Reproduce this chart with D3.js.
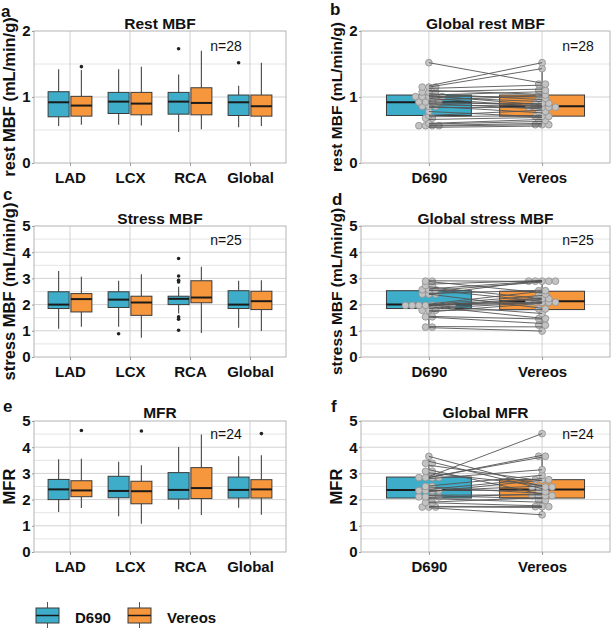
<!DOCTYPE html>
<html>
<head>
<meta charset="UTF-8">
<title>MBF D690 vs Vereos</title>
<script src="https://cdn.jsdelivr.net/npm/d3@7"></script>
<style>
    body{margin:0;background:#fff;}
    svg{display:block;font-family:"Liberation Sans",Arial,sans-serif;}
</style>
</head>
<body>
<svg id="chart" width="614" height="629"></svg>
<script>
// categories
var regions = ["LAD", "LCX", "RCA", "Global"];
var scanners = ["D690", "Vereos"];
var fills = ["#3eadc9", "#f7973d"];

// box stats per region: [lower whisker, q1, median, q3, upper whisker]
var restD690 = [[0.56,0.70,0.92,1.08,1.42],[0.58,0.75,0.93,1.07,1.42],[0.47,0.74,0.93,1.07,1.34],[0.54,0.72,0.92,1.03,1.17]];
var restVereos = [[0.58,0.71,0.87,1.01,1.41],[0.57,0.73,0.90,1.07,1.46],[0.51,0.73,0.91,1.14,1.70],[0.56,0.71,0.86,1.03,1.52]];
var restOutD690 = [[],[],[1.73],[1.52]];
var restOutVereos = [[1.46],[],[],[]];

var stressD690 = [[1.08,1.85,2.00,2.49,3.28],[1.15,1.89,2.19,2.49,2.91],[1.66,2.00,2.22,2.32,2.68],[1.12,1.85,2.00,2.53,2.91]];
var stressVereos = [[1.15,1.72,2.21,2.42,3.06],[0.73,1.59,2.08,2.32,3.16],[0.92,2.07,2.27,2.91,3.44],[0.99,1.81,2.13,2.51,2.93]];
var stressOutD690 = [[],[0.89],[3.76,3.09,2.93,2.86,1.53,1.44,1.02],[]];
var stressOutVereos = [[],[],[],[]];

var mfrD690 = [[1.53,2.00,2.39,2.77,3.54],[1.36,2.07,2.33,2.89,3.44],[1.63,2.02,2.37,3.03,4.01],[1.69,2.06,2.37,2.86,3.65]];
var mfrVereos = [[1.68,2.11,2.35,2.72,3.56],[1.08,1.84,2.32,2.70,3.31],[1.41,2.04,2.44,3.22,4.48],[1.42,2.06,2.39,2.76,3.69]];
var mfrOutD690 = [[],[],[],[]];
var mfrOutVereos = [[4.64],[4.62],[],[4.52]];

// paired global values (same patient order in both arrays)
var restPairD690   = [1.52,1.17,1.15,1.13,1.10,1.08,1.05,1.03,1.02,1.01,1.00,0.98,0.95,0.93,0.91,0.90,0.88,0.86,0.84,0.78,0.72,0.70,0.66,0.60,0.59,0.57,0.56,0.54];
var restPairVereos = [1.21,1.52,1.43,1.18,1.04,1.12,0.96,1.08,0.88,1.00,0.93,0.85,1.02,0.87,0.90,0.82,0.86,0.76,0.84,0.70,0.80,0.72,0.69,0.66,0.63,0.60,0.58,0.56];

var stressPairD690   = [2.91,2.88,2.78,2.68,2.60,2.56,2.53,2.42,2.40,2.38,2.02,2.00,2.00,1.98,1.97,1.97,1.96,1.92,1.85,1.78,1.72,1.55,1.52,1.16,1.12];
var stressPairVereos = [2.88,2.45,2.92,2.22,2.90,2.13,2.86,2.55,1.86,2.93,2.51,2.10,2.35,1.66,2.25,2.07,2.20,1.48,2.08,1.81,2.05,1.45,1.28,1.15,0.99];

var mfrPairD690   = [3.65,3.46,3.31,3.14,3.02,2.88,2.85,2.84,2.80,2.52,2.48,2.39,2.35,2.33,2.30,2.17,2.15,2.08,2.04,1.90,1.88,1.74,1.72,1.69];
var mfrPairVereos = [2.50,2.42,2.72,2.20,2.54,4.52,3.62,3.69,3.14,2.93,2.24,2.80,2.36,2.52,2.74,2.18,2.04,2.22,1.90,2.08,1.76,1.74,1.70,1.42];

var svg = d3.select("#chart");

// draws grid, border and axes of one panel
function frame(left, right, top, bottom, ymax, cats) {
    var g = svg.append("g");
    var x = d3.scalePoint().domain(cats).range([left, right]).padding(0.6);
    var y = d3.scaleLinear().domain([0, ymax]).range([bottom, top]);

    g.selectAll("line.minor").data(d3.range(0.5, ymax, 1)).join("line")
        .attr("class", "minor")
        .attr("x1", left).attr("x2", right)
        .attr("y1", y).attr("y2", y)
        .attr("stroke", "#e4e4e4").attr("stroke-width", 1);
    g.selectAll("line.major").data(d3.range(1, ymax)).join("line")
        .attr("class", "major")
        .attr("x1", left).attr("x2", right)
        .attr("y1", y).attr("y2", y)
        .attr("stroke", "#d2d2d2").attr("stroke-width", 1);
    g.selectAll("line.vert").data(cats).join("line")
        .attr("class", "vert")
        .attr("x1", x).attr("x2", x)
        .attr("y1", top).attr("y2", bottom)
        .attr("stroke", "#d2d2d2").attr("stroke-width", 1);
    g.append("rect")
        .attr("x", left).attr("y", top)
        .attr("width", right - left).attr("height", bottom - top)
        .attr("fill", "none").attr("stroke", "#b4b4b4").attr("stroke-width", 1);

    var ya = g.append("g").attr("transform", "translate(" + left + ",0)")
        .call(d3.axisLeft(y).tickValues(d3.range(0, ymax + 1)).tickFormat(d3.format("d")).tickSize(2).tickPadding(1.5));
    var xa = g.append("g").attr("transform", "translate(0," + bottom + ")")
        .call(d3.axisBottom(x).tickSize(3).tickPadding(6));
    [ya, xa].forEach(function (a) {
        a.select(".domain").remove();
        a.selectAll(".tick line").attr("stroke", "#999");
        a.selectAll("text").attr("fill", "#111").style("font-size", "15px").style("font-weight", "bold")
            .style("font-family", "'Liberation Sans',Arial,sans-serif");
    });
    return {g: g, x: x, y: y, step: x.step()};
}

function drawBox(g, cx, w, s, col, y) {
    g.append("line").attr("x1", cx).attr("x2", cx).attr("y1", y(s[0])).attr("y2", y(s[1]))
        .attr("stroke", "#555").attr("stroke-width", 1.2);
    g.append("line").attr("x1", cx).attr("x2", cx).attr("y1", y(s[3])).attr("y2", y(s[4]))
        .attr("stroke", "#555").attr("stroke-width", 1.2);
    g.append("rect").attr("x", cx - w / 2).attr("y", y(s[3]))
        .attr("width", w).attr("height", y(s[1]) - y(s[3]))
        .attr("fill", col).attr("stroke", "#3a3a3a").attr("stroke-width", 1);
    g.append("line").attr("x1", cx - w / 2).attr("x2", cx + w / 2).attr("y1", y(s[2])).attr("y2", y(s[2]))
        .attr("stroke", "#1a1a1a").attr("stroke-width", 2);
}

function labels(p, o) {
    var r = p.x.range();
    var top = p.y.range()[1], bottom = p.y.range()[0];
    svg.append("text").attr("x", (r[0] + r[1]) / 2).attr("y", o.titleY)
        .attr("text-anchor", "middle").style("font-size", "15.5px").style("font-weight", "bold").attr("fill", "#111")
        .text(o.title);
    svg.append("text").attr("x", o.nx).attr("y", o.ny)
        .attr("text-anchor", "middle").style("font-size", "14px").attr("fill", "#111")
        .text(o.n);
    svg.append("text").attr("x", o.lx).attr("y", o.ly)
        .style("font-size", "17px").style("font-weight", "bold").attr("fill", "#111")
        .text(o.letter);
    svg.append("text")
        .attr("transform", "translate(" + o.yx + "," + (top + bottom) / 2 + ") rotate(-90)")
        .attr("text-anchor", "middle").style("font-size", o.ysize).style("font-weight", "bold").attr("fill", "#111")
        .text(o.ylab);
}

// grouped boxplot panel (a, c, e)
function groupedPanel(box, ymax, statsA, statsB, outA, outB, o) {
    var p = frame(box[0], box[1], box[2], box[3], ymax, regions);
    var w = 0.35 * p.step, off = 0.19 * p.step;
    var sets = [[statsA, outA], [statsB, outB]];
    sets.forEach(function (set, k) {
        regions.forEach(function (reg, i) {
            var cx = p.x(reg) + (k === 0 ? -off : off);
            drawBox(p.g, cx, w, set[0][i], fills[k], p.y);
            p.g.selectAll(null).data(set[1][i]).join("circle")
                .attr("cx", cx).attr("cy", p.y).attr("r", 1.8).attr("fill", "#222");
        });
    });
    labels(p, o);
}

// dotplot layout: bins values along y, stacks dots sideways around cx
function dotLayout(values, cx, y, bwPx, d) {
    var sorted = values.slice().sort(d3.ascending);
    var bins = [], cur = null;
    sorted.forEach(function (v) {
        if (cur && Math.abs(y(v) - y(cur[0])) < bwPx) cur.push(v);
        else { cur = [v]; bins.push(cur); }
    });
    var pts = [];
    bins.forEach(function (b) {
        var c = (b[0] + b[b.length - 1]) / 2;
        b.forEach(function (v, j) {
            pts.push({x: cx + (j - (b.length - 1) / 2) * d, y: y(c)});
        });
    });
    return pts;
}

// paired panel (b, d, f)
function pairedPanel(box, ymax, statA, statB, pairA, pairB, bw, o) {
    var p = frame(box[0], box[1], box[2], box[3], ymax, scanners);
    var w = 0.75 * p.step;
    drawBox(p.g, p.x("D690"), w, statA, fills[0], p.y);
    drawBox(p.g, p.x("Vereos"), w, statB, fills[1], p.y);
    var dots = dotLayout(pairA, p.x("D690"), p.y, bw, 6.7)
        .concat(dotLayout(pairB, p.x("Vereos"), p.y, bw, 6.7));
    p.g.selectAll("circle.pt").data(dots).join("circle")
        .attr("class", "pt")
        .attr("cx", function (d) { return d.x; }).attr("cy", function (d) { return d.y; })
        .attr("r", 3.4).attr("fill", "#c3c3c3").attr("stroke", "#8f8f8f").attr("stroke-width", 0.8);
    p.g.selectAll("line.pair").data(d3.range(pairA.length)).join("line")
        .attr("class", "pair")
        .attr("x1", p.x("D690")).attr("x2", p.x("Vereos"))
        .attr("y1", function (i) { return p.y(pairA[i]); })
        .attr("y2", function (i) { return p.y(pairB[i]); })
        .attr("stroke", "#555").attr("stroke-width", 0.9);
    labels(p, o);
}

groupedPanel([34, 286, 31, 163], 2, restD690, restVereos, restOutD690, restOutVereos,
    {title: "Rest MBF", titleY: 28.5, n: "n=28", nx: 226, ny: 51, letter: "a", lx: 1, ly: 17, yx: 14.5, ysize: "16.5px", ylab: "rest MBF (mL/min/g)"});
pairedPanel([361, 610, 31, 163], 2, restD690[3], restVereos[3], restPairD690, restPairVereos, 3.6,
    {title: "Global rest MBF", titleY: 28.5, n: "n=28", nx: 578, ny: 51, letter: "b", lx: 330, ly: 15, yx: 342, ysize: "15.5px", ylab: "rest MBF (mL/min/g)"});

groupedPanel([34, 286, 226, 357], 5, stressD690, stressVereos, stressOutD690, stressOutVereos,
    {title: "Stress MBF", titleY: 223.5, n: "n=25", nx: 226, ny: 245, letter: "c", lx: 3, ly: 200, yx: 14.5, ysize: "16.5px", ylab: "stress MBF (mL/min/g)"});
pairedPanel([361, 610, 226, 357], 5, stressD690[3], stressVereos[3], stressPairD690, stressPairVereos, 3.6,
    {title: "Global stress MBF", titleY: 224, n: "n=25", nx: 578, ny: 245, letter: "d", lx: 332, ly: 205, yx: 342, ysize: "15.5px", ylab: "stress MBF (mL/min/g)"});

groupedPanel([34, 286, 421, 552], 5, mfrD690, mfrVereos, mfrOutD690, mfrOutVereos,
    {title: "MFR", titleY: 417.5, n: "n=24", nx: 226, ny: 439, letter: "e", lx: 3, ly: 412, yx: 14.5, ysize: "16.5px", ylab: "MFR"});
pairedPanel([361, 610, 421, 552], 5, mfrD690[3], mfrVereos[3], mfrPairD690, mfrPairVereos, 4,
    {title: "Global MFR", titleY: 417.5, n: "n=24", nx: 578, ny: 439, letter: "f", lx: 331, ly: 412, yx: 342, ysize: "16.5px", ylab: "MFR"});

// legend
var lg = svg.append("g");
scanners.forEach(function (s, k) {
    var lx = [36, 128][k], tx = [75, 167][k];
    lg.append("line").attr("x1", lx + 11.5).attr("x2", lx + 11.5).attr("y1", 602).attr("y2", 628)
        .attr("stroke", "#555").attr("stroke-width", 1);
    lg.append("rect").attr("x", lx).attr("y", 608).attr("width", 23).attr("height", 15)
        .attr("fill", fills[k]).attr("stroke", "#3a3a3a").attr("stroke-width", 1);
    lg.append("line").attr("x1", lx).attr("x2", lx + 23).attr("y1", 615.5).attr("y2", 615.5)
        .attr("stroke", "#1a1a1a").attr("stroke-width", 1.5);
    lg.append("text").attr("x", tx).attr("y", 622.5)
        .style("font-size", "15px").style("font-weight", "bold").attr("fill", "#111")
        .text(s);
});
</script>
</body>
</html>
